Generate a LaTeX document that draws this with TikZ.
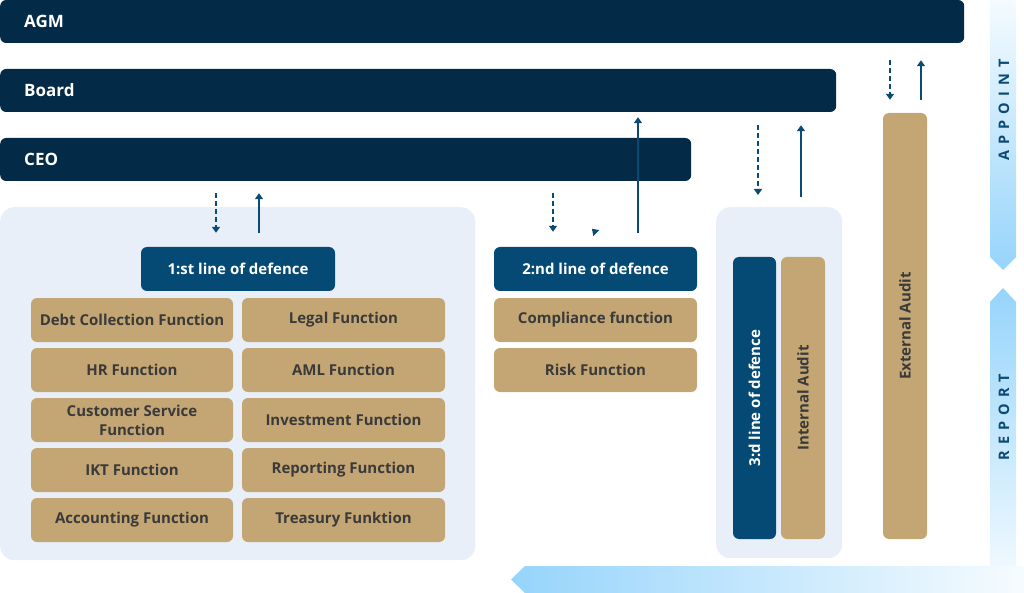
\documentclass[tikz,border=0pt]{standalone}
\usepackage{fontspec}
\setmainfont{Open Sans}
\usepackage{tikz}
\usetikzlibrary{positioning, arrows.meta, calc}
\definecolor{Navy}{HTML}{032A47}
\definecolor{Brand}{HTML}{044A74}
\definecolor{Sand}{HTML}{C4A674}
\definecolor{Panel}{HTML}{E9EFF8}
\definecolor{Sky}{HTML}{96D4FB}
\definecolor{Ink}{HTML}{3A3A3A}
\definecolor{Wire}{HTML}{0B4A73}

\tikzset{
  bar/.style={fill=Navy, rounded corners=6pt, text=white, anchor=west,
    minimum height=43pt, inner xsep=24pt, text width=#1, align=left,
    font=\fontsize{17}{20}\selectfont\bfseries},
  panel/.style={fill=Panel, rounded corners=14pt, inner sep=0pt, anchor=north west},
  linebox/.style={fill=Brand, rounded corners=6pt, text=white, inner sep=0pt,
    font=\fontsize{15}{18}\selectfont\bfseries},
  fn/.style={fill=Sand, rounded corners=6pt, text=Ink, inner sep=0pt,
    minimum width=202pt, minimum height=44pt, align=center,
    font=\fontsize{15}{19}\selectfont\bfseries},
  tag/.style={rotate=90, text=Wire,
    font=\fontsize{14.5}{16}\selectfont\bfseries\addfontfeature{LetterSpace=42}},
  dnarrow/.style={draw=Wire, line width=1.8pt, dash pattern=on 5pt off 3pt,
    -{Triangle[width=8pt,length=6pt]}},
  uparrow/.style={draw=Wire, line width=1.8pt, -{Triangle[width=8pt,length=6pt]}},
}

\begin{document}
\begin{tikzpicture}[x=1pt, y=-1pt]
  \useasboundingbox (0,0) rectangle (1024,593);

  % report / appoint bands
  \shade[top color=Sky!10, bottom color=Sky]
    (990,0) -- (1016,0) -- (1016,257) -- (1003,270) -- (990,257) -- cycle;
  \shade[top color=Sky, bottom color=Sky!8]
    (990,302) -- (1003,288) -- (1016,302) -- (1016,593) -- (990,593) -- cycle;
  \shade[left color=Sky, right color=Sky!8]
    (1024,566) -- (525,566) -- (511,579.5) -- (525,593) -- (1024,593) -- cycle;
  \node[tag] (appoint) at (1004,110) {APPOINT};
  \node[tag] (report) at (1004,417) {REPORT};

  \node[bar=916pt] (agm) at (0,21.5) {AGM};
  \node[bar=788pt] (board) at (0,90.5) {Board};
  \node[bar=643pt] (ceo) at (0,159.5) {CEO};

  \node[panel, minimum width=475pt, minimum height=353pt] (p1) at (0,207) {};
  \node[panel, minimum width=126pt, minimum height=351pt] (p3) at (716,207) {};

  % first line
  \node[linebox, minimum width=194pt, minimum height=44pt] (l1) at (238,269) {1:st line of defence};
  \foreach \lt/\rt [count=\i] in {Debt Collection Function/Legal Function,
      HR Function/AML Function, {Customer Service\\Function}/Investment Function,
      IKT Function/Reporting Function, Accounting Function/Treasury Funktion} {
    \node[fn] (fl\i) at (132,270+50*\i) {\lt};
    \node[fn, minimum width=203pt] (fr\i) at (343.5,270+50*\i) {\rt};
  }

  % second line
  \node[linebox, minimum width=203pt, minimum height=44pt] (l2) at (595.5,269) {2:nd line of defence};
  \node[fn, minimum width=203pt] (comp) at (595.5,320) {Compliance function};
  \node[fn, minimum width=203pt] (risk) at (595.5,370) {Risk Function};

  % third line and audits
  \node[linebox, rotate=90, minimum width=282pt, minimum height=43pt] (l3) at (754.5,398) {3:d line of defence};
  \node[fn, rotate=90, minimum width=282pt, minimum height=44pt] (ia) at (803,398) {Internal Audit};
  \node[fn, rotate=90, minimum width=426pt, minimum height=44pt] (ea) at (905,326) {External Audit};

  \draw[dnarrow, shorten <=12pt, shorten >=14pt] (ceo.south -| 216,0) -- (l1.north -| 216,0);
  \draw[uparrow, shorten <=14pt, shorten >=12pt] (l1.north -| 259,0) -- (ceo.south -| 259,0);
  \draw[dnarrow, shorten <=12pt, shorten >=15pt] (ceo.south -| 553,0) -- (l2.north -| 553,0);
  \draw[uparrow] ([yshift=17pt]l2.north -| 593,0) -- ++(-1,-1);
  \draw[uparrow, shorten <=14pt, shorten >=5pt] (l2.north -| 638,0) -- (board.south -| 638,0);
  \draw[dnarrow, shorten <=13pt, shorten >=12pt] (board.south -| 758,0) -- (p3.north -| 758,0);
  \draw[uparrow, shorten <=10pt, shorten >=13pt] (p3.north -| 801,0) -- (board.south -| 801,0);
  \draw[dnarrow, shorten <=17pt, shorten >=13pt] (agm.south -| 890,0) -- (ea.east -| 890,0);
  \draw[uparrow, shorten <=13pt, shorten >=17pt] (ea.east -| 921,0) -- (agm.south -| 921,0);
\end{tikzpicture}
\end{document}
